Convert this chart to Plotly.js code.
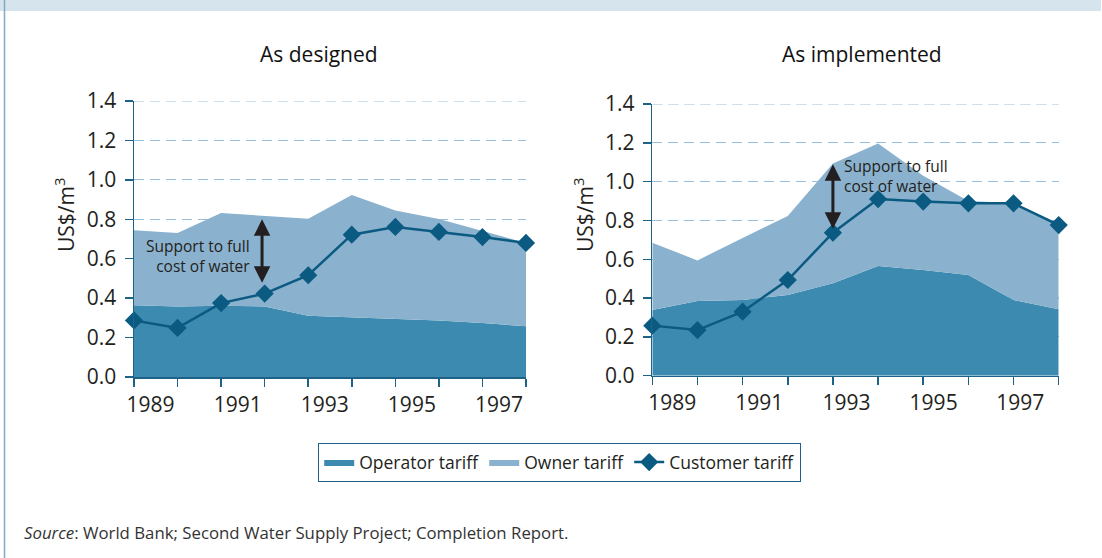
<!DOCTYPE html>
<html>
<head>
<meta charset="utf-8">
<script src="https://cdn.plot.ly/plotly-3.0.1.min.js"></script>
<style>
html,body{margin:0;padding:0;background:#fff;}
#chart{width:1102px;height:558px;}
</style>
</head>
<body>
<div id="chart"></div>
<script>
// ---- data ----
const years = [1989,1990,1991,1992,1993,1994,1995,1996,1997,1998];
const tickLabels = ['1989','1991','1993','1995','1997'];
const tickYears = [1989,1991,1993,1995,1997];

// As designed
const operatorDesigned = [0.364,0.358,0.362,0.358,0.311,0.304,0.294,0.287,0.274,0.257];
const ownerDesigned    = [0.380,0.372,0.470,0.459,0.492,0.619,0.551,0.514,0.467,0.423];
const customerDesigned = [0.287,0.249,0.375,0.423,0.516,0.722,0.761,0.736,0.710,0.680];

// As implemented
const operatorImplemented = [0.338,0.385,0.390,0.416,0.476,0.565,0.545,0.519,0.390,0.342];
const ownerImplemented    = [0.347,0.209,0.320,0.407,0.618,0.632,0.485,0.381,0.500,0.438];
const customerImplemented = [0.258,0.235,0.330,0.493,0.737,0.910,0.897,0.888,0.888,0.776];

const seriesNames = ['Operator tariff','Owner tariff','Customer tariff'];
const titles = ['As designed','As implemented'];
const yTitle = 'US$/m<sup>3</sup>';
const supportText = 'Support to full<br>cost of water';
const sourceText = '<i>Source</i>: World Bank; Second Water Supply Project; Completion Report.';

// ---- styles ----
const W = 1102, H = 558;
const C_OP = '#3d8ab0', C_OW = '#8ab1cd', C_CU = '#0b5a82', C_AX = '#1f6288', C_GRID = '#98c0dc', C_TXT = '#231f20';
const FONT = '"Open Sans", Lato, sans-serif';
const GRID_DASH = '10px,6px';
const px = v => v / W;
const py = v => (H - v) / H;

function areaTraces(op, ow, cu, xa, ya, grp, showLeg) {
  return [
    {x: years, y: op, type:'scatter', mode:'lines', stackgroup: grp, line:{width:0, color:C_OP},
     fillcolor: C_OP, name: seriesNames[0], legendgroup:'op', showlegend: showLeg, xaxis: xa, yaxis: ya, hoverinfo:'skip'},
    {x: years, y: ow, type:'scatter', mode:'lines', stackgroup: grp, line:{width:0, color:C_OW},
     fillcolor: C_OW, name: seriesNames[1], legendgroup:'ow', showlegend: showLeg, xaxis: xa, yaxis: ya, hoverinfo:'skip'},
    {x: years, y: cu, type:'scatter', mode:'lines+markers', line:{width:2.5, color:C_CU},
     marker:{symbol:'diamond', size:14, color:C_CU}, cliponaxis:false,
     name: seriesNames[2], legendgroup:'cu', showlegend: showLeg, xaxis: xa, yaxis: ya}
  ];
}

const data = [
  ...areaTraces(operatorDesigned, ownerDesigned, customerDesigned, 'x', 'y', 'L', true),
  ...areaTraces(operatorImplemented, ownerImplemented, customerImplemented, 'x2', 'y2', 'R', false)
];

function xAxis(dom, offsets, anchor) {
  return {
    domain: dom, anchor: anchor, range:[1989,1998], showgrid:false, zeroline:false,
    showline:true, linecolor:C_AX, linewidth:1.5,
    tickmode:'array', tickvals: tickYears.map((y,i)=> y + offsets[i]), ticktext: tickLabels,
    ticks:'', ticklabelstandoff:8, tickfont:{family:FONT, size:21, color:C_TXT},
    minor:{tickmode:'array', tickvals: years, ticks:'outside', ticklen:8, tickcolor:C_AX, tickwidth:1.5, showgrid:false},
    fixedrange:true
  };
}
function yAxis(dom, anchor) {
  return {
    domain: dom, anchor: anchor, range:[0,1.4], tickmode:'array',
    tickvals:[0,0.2,0.4,0.6,0.8,1.0,1.2,1.4], ticktext:['0.0','0.2','0.4','0.6','0.8','1.0','1.2','1.4'],
    showgrid:true, gridcolor:C_GRID, gridwidth:1.2, griddash:GRID_DASH, zeroline:false,
    showline:true, linecolor:C_AX, linewidth:1.5, ticks:'outside', ticklen:8, tickcolor:C_AX, tickwidth:1.5,
    ticklabelstandoff:4, tickfont:{family:FONT, size:21, color:C_TXT}, fixedrange:true
  };
}

function topGrid(xa, ya) {
  return {type:'line', xref: xa + ' domain', yref: ya, x0:0, x1:1, y0:1.4, y1:1.4,
          line:{color:C_GRID, width:1.2, dash:GRID_DASH}, layer:'below'};
}

const layout = {
  width: W, height: H, margin:{l:0,r:0,t:0,b:0}, paper_bgcolor:'#fff', plot_bgcolor:'rgba(0,0,0,0)',
  font:{family:FONT, color:C_TXT},
  xaxis: xAxis([px(134), px(526)], [0.38,0.38,0.38,0.38,0.38], 'y'),
  yaxis: yAxis([py(377), py(101)], 'x'),
  xaxis2: xAxis([px(652.3), px(1058.7)], [0.44,0.37,0.30,0.23,0.15], 'y2'),
  yaxis2: yAxis([py(375.7), py(104)], 'x2'),
  showlegend: true,
  legend:{orientation:'h', x:px(559.5), xanchor:'center', y:py(462.5), yanchor:'middle',
          bordercolor:C_AX, borderwidth:1.2, bgcolor:'#fff', traceorder:'normal',
          font:{family:FONT, size:17.5, color:C_TXT}, itemwidth:30},
  shapes:[
    {type:'rect', xref:'paper', yref:'paper', x0:0, x1:px(1101), y0:py(11), y1:1, fillcolor:'#d6e4ee', line:{width:0}, layer:'below'},
    {type:'line', xref:'paper', yref:'paper', x0:px(4.5), x1:px(4.5), y0:0, y1:1, line:{color:'#86a9c3', width:1.5}},
    topGrid('x', 'y'),
    topGrid('x2', 'y2')
  ],
  annotations:[
    {text: titles[0], xref:'paper', yref:'paper', x:px(319), y:py(54), xanchor:'center', yanchor:'middle', showarrow:false, font:{family:FONT, size:21, color:'#111'}},
    {text: titles[1], xref:'paper', yref:'paper', x:px(862), y:py(54), xanchor:'center', yanchor:'middle', showarrow:false, font:{family:FONT, size:21, color:'#111'}},
    {text: yTitle, xref:'paper', yref:'paper', x:px(64), y:py(215), textangle:-90, xanchor:'center', yanchor:'middle', showarrow:false, font:{family:FONT, size:21, color:C_TXT}},
    {text: yTitle, xref:'paper', yref:'paper', x:px(583), y:py(215), textangle:-90, xanchor:'center', yanchor:'middle', showarrow:false, font:{family:FONT, size:21, color:C_TXT}},
    {text: supportText, xref:'paper', yref:'paper', x:px(252), y:py(256), xanchor:'right', yanchor:'middle', align:'right', showarrow:false, font:{family:FONT, size:15.5, color:C_TXT}},
    {text: supportText, xref:'paper', yref:'paper', x:px(842), y:py(176), xanchor:'left', yanchor:'middle', align:'left', showarrow:false, font:{family:FONT, size:15.5, color:C_TXT}},
    {text:'', xref:'x', yref:'y', x:1991.94, y:0.80, axref:'x', ayref:'y', ax:1991.94, ay:0.47, showarrow:true,
     arrowhead:2, arrowside:'end+start', arrowwidth:3, arrowsize:1.1, arrowcolor:C_TXT, standoff:0, startstandoff:0},
    {text:'', xref:'x2', yref:'y2', x:1993.0, y:1.09, axref:'x2', ayref:'y2', ax:1993.0, ay:0.75, showarrow:true,
     arrowhead:2, arrowside:'end+start', arrowwidth:3, arrowsize:1.1, arrowcolor:C_TXT, standoff:0, startstandoff:0},
    {text: sourceText, xref:'paper', yref:'paper', x:px(22), y:py(532), xanchor:'left', yanchor:'middle', showarrow:false, font:{family:FONT, size:16.8, color:'#333'}}
  ]
};

Plotly.newPlot('chart', data, layout, {displayModeBar:false, staticPlot:true});
</script>
</body>
</html>
